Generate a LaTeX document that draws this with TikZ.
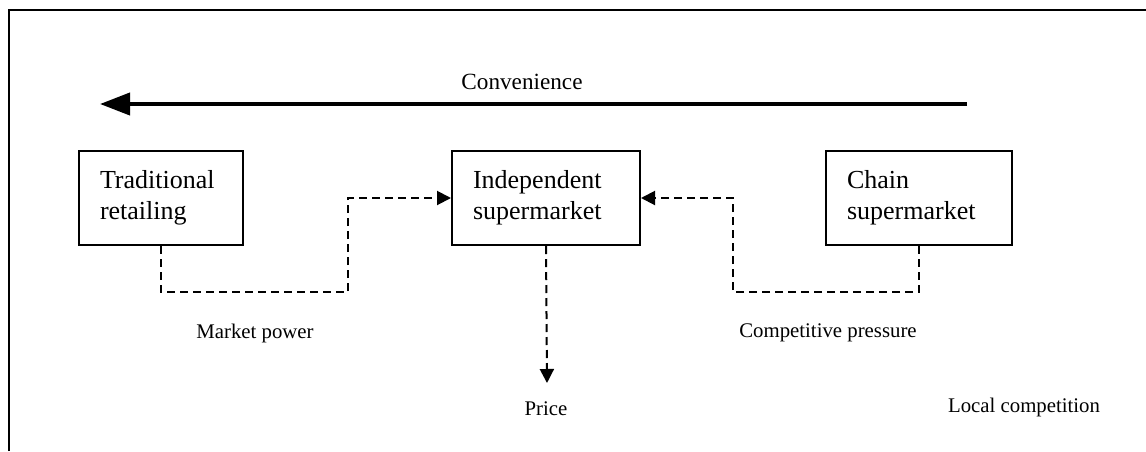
\documentclass[tikz,border=0pt]{standalone}
\usepackage{fontspec}
\setmainfont{Liberation Serif}
\usetikzlibrary{arrows.meta}
\begin{document}
\begin{tikzpicture}[x=0.5pt,y=-0.5pt,
        box/.style={draw,line width=1pt,minimum width=#1,minimum height=47pt,
            text width=#1-21pt,align=left,inner sep=0pt,
            font=\fontsize{13}{15.5}\selectfont},
        flow/.style={line width=1pt,dash pattern=on 4pt off 2.5pt,
            -{Triangle[length=7pt,width=7pt]}},
        lbl/.style={font=\fontsize{10.4}{12}\selectfont,inner sep=0pt}]
    \useasboundingbox (0,0) rectangle (1146,451);
    \draw[line width=1pt] (9,451) -- (9,10) -- (1146,10);
    % convenience axis
    \coordinate (convR) at (967,104);
    \coordinate (convL) at (100,104);
    \draw[line width=2pt,-{Triangle[length=15pt,width=11pt]}] (convR) -- (convL);
    \node [font=\fontsize{11.6}{14}\selectfont] (conv) at (522,82) {Convenience};
    % the three formats
    \node [box=82pt] (trad) at (161,198) {Traditional\\retailing\\[-4pt]};
    \node [box=94pt] (ind) at (546,198) {Independent\\supermarket\\[-4pt]};
    \node [box=93pt] (chain) at (919,198) {Chain\\supermarket\\[-4pt]};
    % links
    \coordinate (j1) at (348,292);
    \coordinate (j2) at (733,292);
    \coordinate (pricetip) at (547,383);
    \draw[flow] (trad.south) |- (j1) |- (ind.west);
    \draw[flow] (chain.south) |- (j2) |- (ind.east);
    \draw[flow] (ind.south) -- (pricetip);
    \node [lbl] (mp) at (255,333) {Market power};
    \node [lbl] (cp) at (828,333) {Competitive pressure};
    \node [lbl] (price) at (546,409) {Price};
    \node [lbl] (local) at (1024,407) {Local competition};
\end{tikzpicture}
\end{document}
